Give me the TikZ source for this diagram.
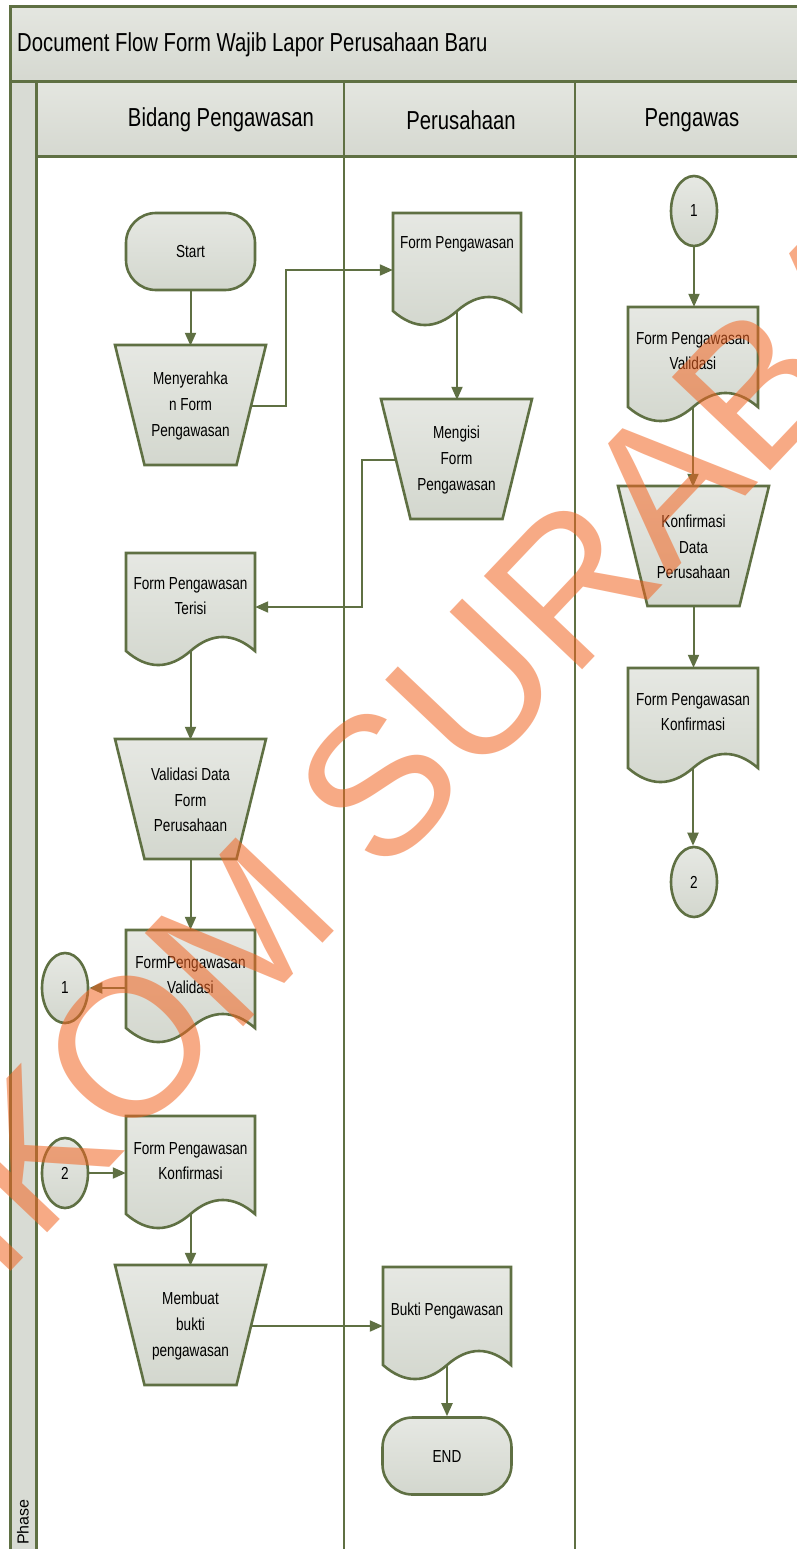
\documentclass[tikz,border=0pt]{standalone}
\usepackage{fontspec}
\setmainfont{Liberation Sans}[FakeStretch=0.78]
\newfontfamily\plainsans{Liberation Sans}
\usetikzlibrary{shapes.geometric,arrows.meta}
\definecolor{lineC}{HTML}{5F7043}
\definecolor{topC}{HTML}{E6E8E3}
\definecolor{botC}{HTML}{D3D7CE}
\definecolor{hdrT}{HTML}{E4E6E0}
\definecolor{hdrB}{HTML}{D5D8D0}
\definecolor{hdrC}{HTML}{D8DBD4}
\definecolor{wmC}{HTML}{F26522}
\tikzset{
 shp/.style={draw=lineC, line width=2.6pt, top color=topC, bottom color=botC},
 box/.style={rectangle, draw=none, inner sep=0pt},
 txt/.style={inner sep=0pt, align=center, font=\fontsize{17.4}{25.7}\selectfont},
 term/.style={shp, rectangle, rounded corners=30pt, minimum width=129pt, minimum height=77pt, inner sep=0pt, font=\fontsize{17.4}{25.7}\selectfont},
 circ/.style={shp, ellipse, minimum width=46pt, minimum height=70pt, inner sep=0pt, font=\fontsize{17.4}{25.7}\selectfont},
 conn/.style={draw=lineC, line width=2pt},
 arr/.style={conn, -{Triangle[length=13pt,width=11pt]}},
 lane/.style={draw=lineC, line width=2pt},
 hdr/.style={draw=lineC, line width=3pt, top color=hdrT, bottom color=hdrB},
 hdrtxt/.style={inner sep=0pt, font=\fontsize{26}{30}\selectfont},
}
% document shape: name, left, top, width, height, text, text y offset from top
\newcommand\docnode[7]{%
  \path[shp] (#2,#3) -- ({#2+#4},#3) -- ({#2+#4},{#3+#5})
    .. controls ({#2+#4*0.8333},{#3+#5-18.7}) and ({#2+#4*0.6667},{#3+#5-18.7}) .. ({#2+#4*0.5},{#3+#5})
    .. controls ({#2+#4*0.3333},{#3+#5+18.7}) and ({#2+#4*0.1667},{#3+#5+18.7}) .. (#2,{#3+#5}) -- cycle;
  \node[box, minimum width=#4pt, minimum height=#5pt] (#1) at ({#2+#4/2},{#3+#5/2}) {};
  \node[txt] (#1-t) at ({#2+#4/2},{#3+#7}) {#6};
}
% manual operation (trapezoid): name, left, top, text
\newcommand\trapnode[4]{%
  \path[shp] (#2,#3) -- ({#2+151},#3) -- ({#2+121.5},{#3+120}) -- ({#2+29.5},{#3+120}) -- cycle;
  \node[box, txt, minimum width=151pt, minimum height=120pt] (#1) at ({#2+75.5},{#3+61}) {#4};
}
\begin{document}
\begin{tikzpicture}[x=1pt,y=-1pt]
\useasboundingbox (0,0) rectangle (797,1549);
\clip (0,0) rectangle (797,1549);
\fill[white] (0,0) rectangle (797,1549);
% pool frame
\path[hdr] (10,7) rectangle (830,82);
\path[draw=lineC, line width=3pt, fill=hdrC] (10,82) rectangle (36,1580);
\path[hdr] (36,82) rectangle (830,157);
\draw[lane] (344,82) -- (344,1580);
\draw[lane] (575,82) -- (575,1580);
\node[hdrtxt, anchor=west] (title) at (17,45) {Document Flow Form Wajib Lapor Perusahaan Baru};
\node[hdrtxt] (hB) at (221,120) {Bidang Pengawasan};
\node[hdrtxt] (hP) at (461,120) {Perusahaan};
\node[hdrtxt] (hG) at (692,120) {Pengawas};
\node[rotate=90, inner sep=0pt, font=\plainsans\fontsize{16}{16}\selectfont] (phase) at (23,1522) {Phase};

% Bidang Pengawasan
\node[term] (start) at (190.5,251.5) {Start};
\trapnode{menyer}{115}{345}{Menyerahka\\n Form\\Pengawasan}
\docnode{terisi}{126}{553}{129}{98}{Form Pengawasan\\Terisi}{43}
\trapnode{validasi}{115}{739}{Validasi Data\\Form\\Perusahaan}
\docnode{valid1}{126}{930}{129}{98}{FormPengawasan\\Validasi}{45}
\node[circ] (c1a) at (65,988) {1};
\docnode{konf1}{126}{1116}{129}{98}{Form Pengawasan\\Konfirmasi}{45}
\node[circ] (c2a) at (65,1173) {2};
\trapnode{membuat}{115}{1265}{Membuat\\bukti\\pengawasan}

% Perusahaan
\docnode{fpw}{393}{213}{128}{98}{Form Pengawasan}{31}
\trapnode{mengisi}{381}{399}{Mengisi\\Form\\Pengawasan}
\docnode{bukti}{383}{1267}{128}{98}{Bukti Pengawasan}{44}
\node[term] (end) at (447,1456) {END};

% Pengawas
\node[circ] (c1b) at (694,211) {1};
\docnode{valid2}{628}{307}{130}{100}{Form Pengawasan\\Validasi}{44}
\trapnode{konfirm}{618}{486}{Konfirmasi\\Data\\Perusahaan}
\docnode{konf2}{628}{668}{130}{100}{Form Pengawasan\\Konfirmasi}{44}
\node[circ] (c2b) at (694,882) {2};

% connectors
\draw[arr] (start.south) -- (menyer.north);
\draw[arr] ([xshift=-14.75pt]menyer.east) -- ++(34.5,0) |- ([yshift=-8pt]fpw.west);
\draw[arr] (fpw.south) -- (fpw.south |- mengisi.north);
\draw[arr] ([xshift=14.75pt]mengisi.west) -- ++(-34,0) |- ([yshift=-5pt]terisi.east);
\draw[arr] (terisi.south) -- (validasi.north);
\draw[arr] (validasi.south) -- (valid1.north);
\draw[arr] (valid1.west |- c1a.east) -- (c1a.east);
\draw[arr] (c2a.east) -- (c2a.east -| konf1.west);
\draw[arr] (konf1.south) -- (membuat.north);
\draw[arr] ([xshift=-14.75pt]membuat.east) -- (membuat.east -| bukti.west);
\draw[arr] (bukti.south) -- (bukti.south |- end.north);
\draw[arr] (c1b.south) -- (c1b.south |- valid2.north);
\draw[arr] (valid2.south) -- (valid2.south |- konfirm.north);
\draw[arr] (konfirm.south) -- (konfirm.south |- konf2.north);
\draw[arr] (konf2.south) -- (konf2.south |- c2b.north);

% watermark
\node[rotate=46.5, text=wmC, text opacity=0.55, inner sep=0pt, font=\plainsans\fontsize{197}{197}\selectfont] (wm) at (414,748) {STIKOM SURABAYA};
\end{tikzpicture}
\end{document}
